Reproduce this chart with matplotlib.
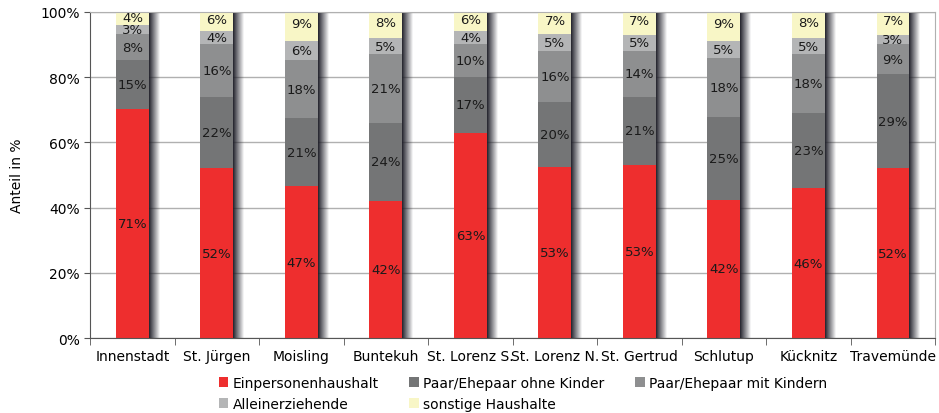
import numpy as np
import matplotlib.pyplot as plt

# Haushaltsstruktur nach Stadtteilen (Anteile in %)
stadtteile = ["Innenstadt", "St. Jürgen", "Moisling", "Buntekuh", "St. Lorenz S.",
              "St. Lorenz N.", "St. Gertrud", "Schlutup", "Kücknitz", "Travemünde"]
einpersonen = [71, 52, 47, 42, 63, 53, 53, 42, 46, 52]
ohne_kinder = [15, 22, 21, 24, 17, 20, 21, 25, 23, 29]
mit_kindern = [8, 16, 18, 21, 10, 16, 14, 18, 18, 9]
alleinerz = [3, 4, 6, 5, 4, 5, 5, 5, 5, 3]
sonstige = [4, 6, 9, 8, 6, 7, 7, 9, 8, 7]

serien = ["Einpersonenhaushalt", "Paar/Ehepaar ohne Kinder", "Paar/Ehepaar mit Kindern",
          "Alleinerziehende", "sonstige Haushalte"]
farben = ["#ee2e2e", "#747576", "#8e8f90", "#b4b5b6", "#f8f6c6"]

werte = np.array([einpersonen, ohne_kinder, mit_kindern, alleinerz, sonstige], dtype=float)
anteile = werte / werte.sum(axis=0) * 100  # auf 100 % skaliert, wie im Original

plt.rcParams['font.family'] = ['DejaVu Sans']
fig = plt.figure(figsize=(9.39, 4.14), dpi=100)
ax = fig.add_axes([0.096, 0.181, 0.9, 0.788])

x = np.arange(len(stadtteile))
breite = 0.39

# weicher Schatten rechts neben den Balken
px = 0.0118
alphas = np.linspace(0.95, 0.05, 11)
for i, a in enumerate(alphas):
    ax.bar(x + breite / 2 + px * (i + 0.5), 100, width=px, color="#1e1e28",
           alpha=a, linewidth=0, zorder=1.5)

unten = np.zeros(len(stadtteile))
handles = []
for k, name in enumerate(serien):
    h = ax.bar(x, anteile[k], breite, bottom=unten, color=farben[k], label=name,
               linewidth=0, zorder=2)
    handles.append(h)
    for j in range(len(stadtteile)):
        yy = unten[j] + anteile[k][j] / 2
        if k == 4:
            yy = unten[j] + anteile[k][j] * 0.6
        ax.text(x[j], yy, f"{int(werte[k][j])}%", ha="center", va="center",
                fontsize=9.5, color="#1a1a1a", zorder=3)
    unten += anteile[k]

ax.set_xlim(-0.5, len(stadtteile) - 0.5)
ax.set_ylim(0, 100)
ax.set_yticks(np.arange(0, 101, 20))
ax.set_yticklabels([f"{v}%" for v in range(0, 101, 20)], fontsize=10)
ax.yaxis.grid(True, color="#b0b0b0", linewidth=1, zorder=0)
ax.set_axisbelow(True)

ax.set_xticks(x)
ax.set_xticklabels(stadtteile, fontsize=10)
ax.tick_params(axis="x", length=0, pad=8)
ax.set_xticks(np.arange(-0.5, len(stadtteile)), minor=True)
ax.tick_params(axis="x", which="minor", length=5, color="#555555")
ax.tick_params(axis="y", length=4, color="#555555")

for s in ["top", "right"]:
    ax.spines[s].set_color("#b0b0b0")
for s in ["left", "bottom"]:
    ax.spines[s].set_color("#555555")

ax.set_ylabel("Anteil in %", fontsize=10, labelpad=12)

# Legende zeilenweise wie im Original
reihenfolge = [0, 3, 1, 4, 2]
ax.legend([handles[i] for i in reihenfolge], [serien[i] for i in reihenfolge],
          loc="upper left", bbox_to_anchor=(0.152, -0.115), ncol=3, frameon=False,
          fontsize=10, handlelength=0.7, handleheight=0.7, handletextpad=0.3,
          columnspacing=2.2, labelspacing=0.55, borderpad=0, borderaxespad=0)

fig.savefig("out.png", dpi=100)
